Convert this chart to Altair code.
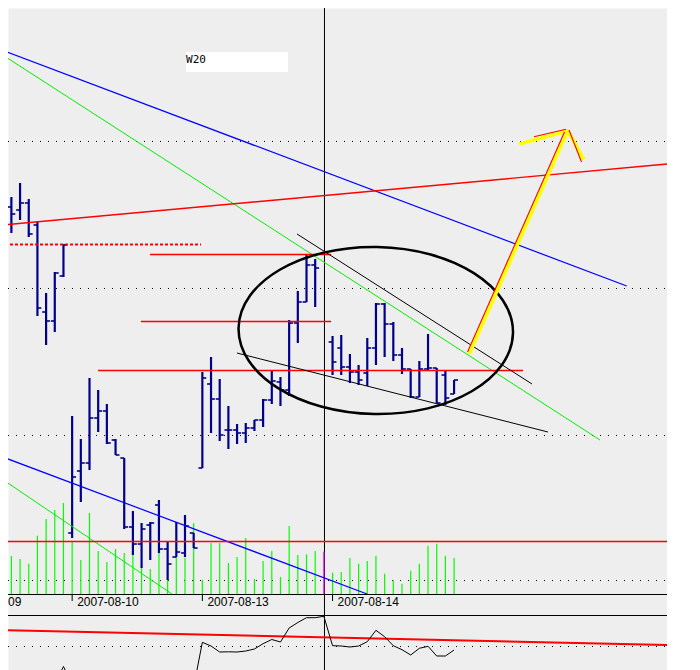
import altair as alt
import pandas as pd

# ---------------- price bars (30-minute bars, index 0..52; bar 37 hidden under cursor) ----------------
price_bar_index = list(range(0, 37)) + list(range(38, 53))
open_ = [813, 793, 790, 797, 775, 688, 679, 724, 467, 529, 537, 582, 589, 560, 542, 473, 456, 475, 495, 451,
         443, 447, 467, 532, 616, 601, 570, 570, 567, 572, 580, 600, 618, 610, 677, 698, 735,
         658, 652, 633, 628, 627, 652, 696, 676, 645, 631, 603, 631, 632, 625, 606]
high = [816, 803, 817, 801, 779, 707, 728, 756, 584, 561, 622, 610, 596, 561, 542, 489, 477, 478, 500, 459,
        478, 485, 467, 628, 643, 621, 594, 576, 577, 580, 601, 629, 623, 680, 709, 746, 741,
        664, 665, 646, 635, 662, 697, 697, 678, 652, 631, 639, 666, 632, 630, 620]
low = [775, 767, 780, 763, 684, 655, 668, 723, 462, 498, 530, 568, 556, 545, 471, 445, 432, 440, 447, 420,
       443, 443, 452, 532, 567, 559, 551, 556, 557, 569, 573, 596, 594, 604, 657, 698, 693,
       625, 625, 617, 615, 614, 635, 643, 639, 626, 602, 603, 630, 597, 595, 606]
close = [793, 786, 797, 766, 692, 679, 727, 755, 523, 537, 582, 589, 557, 545, 473, 456, 471, 477, 451, 436,
         448, 474, 452, 622, 601, 565, 570, 567, 572, 580, 600, 619, 610, 677, 698, 735, 732,
         638, 633, 628, 620, 652, 696, 676, 645, 631, 603, 631, 632, 597, 602, 620]

# ---------------- volume ----------------
volume_index = list(range(53))
volume = [5130, 3800, 3500, 3030, 5830, 7500, 8400, 9100, 5250, 3400,
          8100, 4300, 3200, 4500, 4100, 4000, 2950, 2500, 4100, 3400,
          3730, 3630, 7070, 1400, 5100, 5100, 3100, 3700, 5600, 1500,
          3300, 4300, 1700, 6800, 3900, 3970, 4300, 4230, 2130, 2200,
          3600, 3030, 3300, 3830, 2030, 1400, 1030, 2330, 3030, 4830,
          5030, 3830, 3600]
cursor_bar = 37
volume_avg_level = 5250

# ---------------- lower indicator ----------------
indicator = [14, 12, 16, 13, 10, 9, 12, 29.5, 12, 8, 10, 13, 11, 9, 7, 6, 8, 10, 8, 9, 10, 11, 9,
             53.7, 50, 44, 44.2, 44, 45, 47, 52.3, 56.5, 54, 68, 73.5, 78.3, 78.3, 79.7, 50.3, 50,
             49, 50, 54.3, 65.7, 59.3, 50.3, 46.3, 41, 47.7, 49.7, 40, 40, 46]
ind_signal_x = [-0.31, 76.53]
ind_signal_v = [66, 51]

# ---------------- dates ----------------
date_labels = ["2007-08-09", "2007-08-10", "2007-08-13", "2007-08-14"]
date_index = [-7, 8, 23, 38]

# ---------------- reference levels ----------------
price_grid = [858.5, 711.5, 564.5]
volume_grid = [1350]
indicator_grid = [49.5]
cursor_position = [37.07]

# ---------------- drawn trend lines (bar index, price) ----------------
blue_x1, blue_p1, blue_x2, blue_p2 = [-0.31, -0.31], [950.7, 544], [71.89, 41.97], [714, 406]
green_x1, green_p1, green_x2, green_p2 = [-0.31, -0.31], [946.7, 522.3], [68.81, 19.50], [560, 406]
red_x1 = [-0.31, 16.97, 15.93, 10.98]
red_p1 = [774.7, 745.5, 678.5, 629.5]
red_x2 = [76.53, 37.82, 37.82, 59.94]
red_p2 = [836, 745.5, 678.5, 629.5]
black_x1, black_p1, black_x2, black_p2 = [33.91, 26.99], [766, 647], [60.98, 62.82], [616, 568]
dash_x1, dash_p1, dash_x2, dash_p2 = [-0.31], [755.5], [22.85], [755.5]

# arrow (yellow body with red edge)
arrow_x1 = [53.83, 65.01, 65.24]
arrow_p1 = [648, 869, 867]
arrow_x2 = [65.01, 59.71, 66.85]
arrow_p2 = [868, 856.5, 842]
edge_x1 = [53.55, 61.21, 65.24]
edge_p1 = [648, 863.3, 870]
edge_x2 = [64.72, 64.89, 66.68]
edge_p2 = [868, 870.7, 838]

# ellipse centre
ellipse_x = [42.98]
ellipse_p = [669.5]

# label box
box_x1, box_x2, box_p1, box_p2 = [21.12], [32.87], [948], [928]
box_text = ["W20"]
box_text_p = [937]

# ---------------- scales ----------------
X_MIN, X_MAX = 0.6106, 76.53
XS = alt.Scale(domain=[X_MIN, X_MAX], nice=False, zero=False)
PS = alt.Scale(domain=[330, 992], nice=False, zero=False)
VS = alt.Scale(domain=[-7600, 58600], nice=False, zero=False)
IS = alt.Scale(domain=[26, 688], nice=False, zero=False)


def X(f):
    return alt.X(f, type="quantitative", scale=XS, axis=None)


def Y(f, s):
    return alt.Y(f, type="quantitative", scale=s, axis=None)


def segs(x1, p1, x2, p2, **kw):
    df = pd.DataFrame(dict(x1=x1, p1=p1, x2=x2, p2=p2))
    return alt.Chart(df).mark_rule(clip=True, **kw).encode(
        x=X("x1"), x2="x2", y=Y("p1", PS), y2="p2")


def hlines(vals, scale, **kw):
    df = pd.DataFrame(dict(v=vals))
    return alt.Chart(df).mark_rule(clip=True, **kw).encode(y=Y("v", scale))


layers = []
dots = dict(strokeDash=[1, 7], strokeDashOffset=6, color="black", strokeWidth=1)
layers.append(hlines(price_grid, PS, **dots))
layers.append(hlines(volume_grid, VS, **dots))
layers.append(hlines(indicator_grid, IS, **dots))

# cursor line
layers.append(alt.Chart(pd.DataFrame(dict(i=cursor_position))).mark_rule(
    color="black", strokeWidth=1, clip=True).encode(x=X("i")))

# volume bars
vol_df = pd.DataFrame(dict(i=volume_index, v=volume))
vol_df["col"] = ["#FF00FF" if k == cursor_bar else "#00FF00" for k in volume_index]
vol_df["base"] = 0
layers.append(alt.Chart(vol_df).mark_rule(strokeWidth=1.2, clip=True).encode(
    x=X("i"), y=Y("v", VS), y2="base", color=alt.Color("col:N", scale=None)))

# OHLC bars
bar_df = pd.DataFrame(dict(i=price_bar_index, o=open_, h=high, l=low, c=close))
bar_color = "#00008B"
base = alt.Chart(bar_df)
layers.append(base.mark_rule(color=bar_color, strokeWidth=2.2, clip=True).encode(
    x=X("i"), y=Y("h", PS), y2="l"))
layers.append(base.transform_calculate(xl="datum.i - 0.45").mark_rule(
    color=bar_color, strokeWidth=1.6, clip=True).encode(x=X("xl"), x2="i", y=Y("o", PS)))
layers.append(base.transform_calculate(xr="datum.i + 0.45").mark_rule(
    color=bar_color, strokeWidth=1.6, clip=True).encode(x=X("i"), x2="xr", y=Y("c", PS)))

# trend lines
layers.append(segs(blue_x1, blue_p1, blue_x2, blue_p2, color="#0000FF", strokeWidth=1.2))
layers.append(segs(green_x1, green_p1, green_x2, green_p2, color="#00EE00", strokeWidth=1))
layers.append(segs(red_x1, red_p1, red_x2, red_p2, color="#FF0000", strokeWidth=1.4))
layers.append(segs(black_x1, black_p1, black_x2, black_p2, color="#000000", strokeWidth=1))
layers.append(segs(dash_x1, dash_p1, dash_x2, dash_p2, color="#FF0000", strokeWidth=2.2, strokeDash=[3, 2]))
layers.append(hlines([volume_avg_level], VS, color="#FF0000", strokeWidth=1.3))

# ellipse
ellipse_path = ("M-1,0C-1,-0.336,-0.5523,-0.6084,0,-0.6084C0.5523,-0.6084,1,-0.336,1,0"
                "C1,0.336,0.5523,0.6084,0,0.6084C-0.5523,0.6084,-1,0.336,-1,0Z")
layers.append(alt.Chart(pd.DataFrame(dict(i=ellipse_x, p=ellipse_p))).mark_point(
    shape=ellipse_path, size=75350, filled=False, stroke="black", strokeWidth=2.5,
    opacity=1, angle=1, clip=True).encode(x=X("i"), y=Y("p", PS)))

# arrow
layers.append(segs(arrow_x1, arrow_p1, arrow_x2, arrow_p2, color="#FFFF00", strokeWidth=3.8, strokeCap="square"))
layers.append(segs(edge_x1, edge_p1, edge_x2, edge_p2, color="#FF0000", strokeWidth=1.1))

# axis lines, ticks and date labels
layers.append(hlines([-50], VS, color="black", strokeWidth=1))
layers.append(hlines([80.5], IS, color="black", strokeWidth=1))
tick_df = pd.DataFrame(dict(i=date_index, label=date_labels))
tick_df["t0"] = 0
tick_df["t1"] = -700
tick_df["ty"] = -1200
# a label whose tick lies left of the visible window shows only its day, at the left edge
tick_df["shown"] = [lab if k >= X_MIN else lab[-2:] for lab, k in zip(date_labels, date_index)]
tick_df["lx"] = [k + 0.58 if k >= X_MIN else X_MIN for k in date_index]
layers.append(alt.Chart(tick_df).mark_rule(color="black", strokeWidth=1, clip=True).encode(
    x=X("i"), y=Y("t0", VS), y2="t1"))
layers.append(alt.Chart(tick_df).mark_text(
    align="left", baseline="alphabetic", font="Liberation Sans", fontSize=12,
    color="black", clip=True).encode(x=X("lx"), y=Y("ty", VS), text="shown:N"))

# label box
box_df = pd.DataFrame(dict(x1=box_x1, x2=box_x2, p1=box_p1, p2=box_p2, t=box_text, tp=box_text_p))
layers.append(alt.Chart(box_df).mark_rect(color="white", clip=True).encode(
    x=X("x1"), x2="x2", y=Y("p1", PS), y2="p2"))
layers.append(alt.Chart(box_df).mark_text(
    align="left", baseline="alphabetic", font="DejaVu Sans Mono", fontSize=11,
    color="black", clip=True).encode(x=X("x1"), y=Y("tp", PS), text="t:N"))

# indicator
ind_df = pd.DataFrame(dict(i=volume_index, v=indicator))
sig_df = pd.DataFrame(dict(i=ind_signal_x, v=ind_signal_v))
layers.append(alt.Chart(sig_df).mark_line(color="#FF0000", strokeWidth=2, clip=True).encode(
    x=X("i"), y=Y("v", IS)))
layers.append(alt.Chart(ind_df).mark_line(color="black", strokeWidth=1, clip=True).encode(
    x=X("i"), y=Y("v", IS)))

chart = alt.layer(*layers).resolve_scale(y="independent").properties(
    width=659, height=662, padding=0,
    autosize=alt.AutoSizeParams(type="none"), background="white",
).configure_view(fill="#EEEEEE", stroke="transparent")

chart.save("out.html", embed_options={"renderer": "svg", "actions": False})
